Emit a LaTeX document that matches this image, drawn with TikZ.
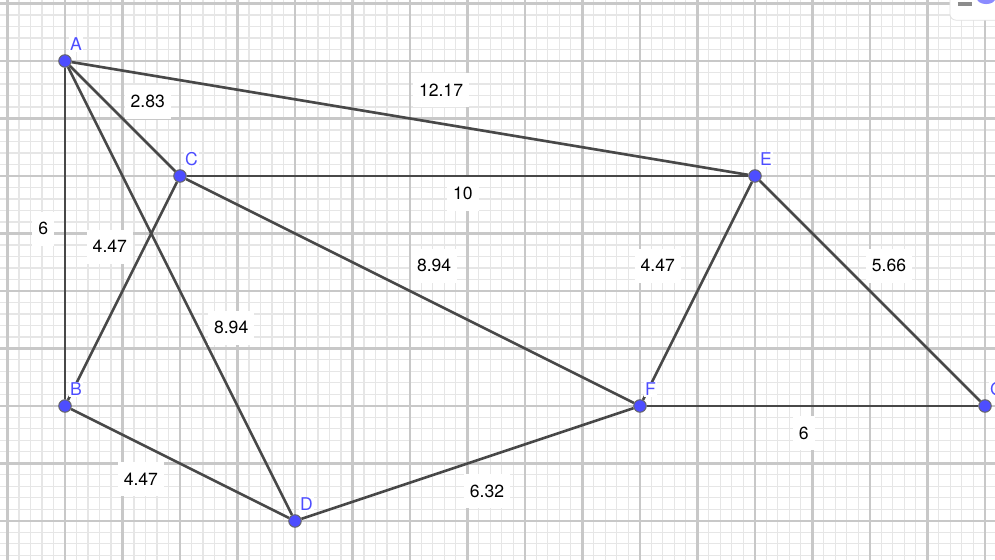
\documentclass[tikz,border=0pt]{standalone}
\usepackage{fontspec}
\setmainfont{TeX Gyre Heros}
\definecolor{ptblue}{RGB}{77,77,255}
\definecolor{segcol}{RGB}{72,72,72}
\definecolor{majcol}{RGB}{200,200,200}
\definecolor{mincol}{RGB}{230,230,230}
\pgfdeclarelayer{bg}
\pgfsetlayers{bg,main}
\begin{document}
\begin{tikzpicture}[x=1cm,y=1cm,font=\fontsize{8.7}{10}\selectfont,
	pt/.style={circle,fill=ptblue,draw=black!60,line width=0.5pt,inner sep=0pt,minimum size=6.2pt},
	lbl/.style={text=ptblue,fill=white,inner sep=0.6pt,xshift=-0.6pt,yshift=1.8pt},
	len/.style={fill=white,inner xsep=3pt,minimum height=17pt},
	seg/.style={draw=segcol,line width=1.3pt}]
	\useasboundingbox (-1.1304,-2.6783) rectangle (16.1739,7.0609);
	\clip (-1.1304,-2.6783) rectangle (16.1739,7.0609);
	% grid
	\begin{pgfonlayer}{bg}
	\draw[mincol,line width=0.5pt,step=0.2] (-1.4,-3) grid (16.4,7.4);
	\draw[majcol,line width=1pt,step=1] (-1.4,-3) grid (16.4,7.4);
	\end{pgfonlayer}
	% points
	\node[pt,label={[lbl]above right:A}] (A) at (0,6) {};
	\node[pt,label={[lbl]above right:B}] (B) at (0,0) {};
	\node[pt,label={[lbl]above right:C}] (C) at (2,4) {};
	\node[pt,label={[lbl]above right:D}] (D) at (4,-2) {};
	\node[pt,label={[lbl]above right:E}] (E) at (12,4) {};
	\node[pt,label={[lbl]above right:F}] (F) at (10,0) {};
	\node[pt,label={[lbl]above right:G}] (G) at (16,0) {};
	% segments
	\begin{pgfonlayer}{bg}
	\draw[seg] (A) -- (B);
	\draw[seg] (A) -- (C);
	\draw[seg] (A) -- (D);
	\draw[seg] (A) -- (E);
	\draw[seg] (B) -- (C);
	\draw[seg] (B) -- (D);
	\draw[seg] (C) -- (E);
	\draw[seg] (C) -- (F);
	\draw[seg] (D) -- (F);
	\draw[seg] (E) -- (F);
	\draw[seg] (E) -- (G);
	\draw[seg] (F) -- (G);
	\end{pgfonlayer}
	% lengths
	\node[len] (lAE) at (6.54,5.49) {12.17};
	\node[len] (lAC) at (1.44,5.29) {2.83};
	\node[len] (lCE) at (6.92,3.69) {10};
	\node[len] (lAB) at (-0.38,3.08) {6};
	\node[len] (lBC) at (0.78,2.77) {4.47};
	\node[len] (lCF) at (6.42,2.44) {8.94};
	\node[len] (lEF) at (10.31,2.44) {4.47};
	\node[len] (lEG) at (14.33,2.44) {5.66};
	\node[len] (lAD) at (2.89,1.36) {8.94};
	\node[len] (lFG) at (12.85,-0.47) {6};
	\node[len] (lBD) at (1.32,-1.27) {4.47};
	\node[len] (lDF) at (7.34,-1.48) {6.32};
	% corner button
	\draw[black!12,fill=white,rounded corners=3pt] (15.39,6.71) rectangle (16.6,7.4);
	\draw[black!45,line width=2pt] (15.53,6.99) -- (15.77,6.99);
	\fill[ptblue!65] (16.18,7.09) arc (0:-180:0.16 and 0.1) -- cycle;
\end{tikzpicture}
\end{document}
